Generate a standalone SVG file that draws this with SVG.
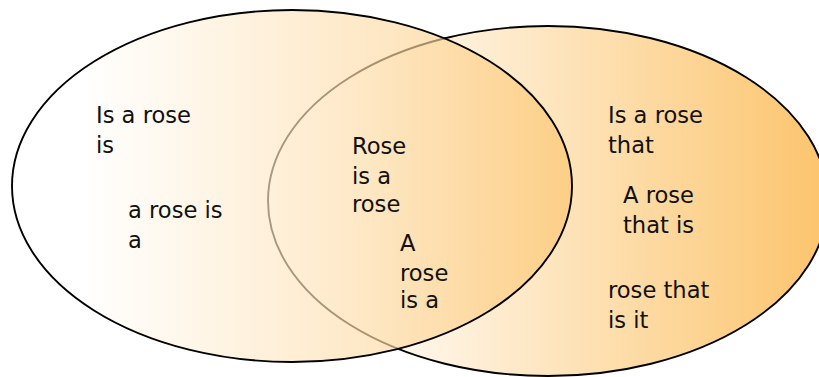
<svg xmlns="http://www.w3.org/2000/svg" width="819" height="377" viewBox="0 0 819 377">
  <defs>
    <linearGradient id="gradOrange" x1="0" y1="0" x2="1" y2="0">
      <stop offset="0" stop-color="#ffffff"/>
      <stop offset="0.12" stop-color="#ffffff"/>
      <stop offset="1" stop-color="#fcc46c"/>
    </linearGradient>
  </defs>
  <style>
    .set { stroke: #000000; stroke-width: 1.9; }
    .lbl { font-family: "DejaVu Sans", Verdana, sans-serif; font-size: 22.6px; fill: #111111; }
  </style>
  <rect width="819" height="377" fill="#ffffff"/>
  <g id="set-right">
    <ellipse class="set" cx="548" cy="201" rx="280" ry="175" fill="url(#gradOrange)"/>
  </g>
  <g id="set-left">
    <ellipse class="set" cx="292" cy="186" rx="280" ry="176" fill="url(#gradOrange)" fill-opacity="0.66"/>
  </g>
  <g id="connectors"/>
  <g id="region-left">
    <text class="lbl" x="96" y="123">Is a rose</text>
    <text class="lbl" x="96" y="153">is</text>
    <text class="lbl" x="128" y="218">a rose is</text>
    <text class="lbl" x="128" y="248">a</text>
  </g>
  <g id="region-overlap">
    <text class="lbl" x="352" y="154">Rose</text>
    <text class="lbl" x="352" y="184">is a</text>
    <text class="lbl" x="352" y="212">rose</text>
    <text class="lbl" x="400" y="251">A</text>
    <text class="lbl" x="400" y="281">rose</text>
    <text class="lbl" x="400" y="308">is a</text>
  </g>
  <g id="region-right">
    <text class="lbl" x="608" y="123">Is a rose</text>
    <text class="lbl" x="608" y="153">that</text>
    <text class="lbl" x="623" y="203">A rose</text>
    <text class="lbl" x="623" y="233">that is</text>
    <text class="lbl" x="608" y="298">rose that</text>
    <text class="lbl" x="608" y="328">is it</text>
  </g>
</svg>
